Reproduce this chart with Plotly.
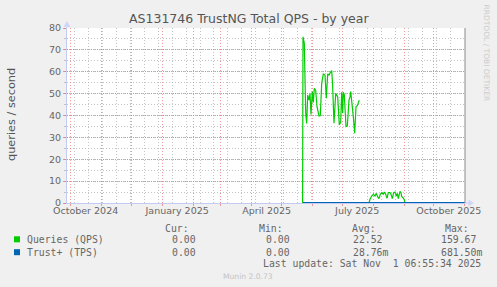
import plotly.graph_objects as go
import pandas as pd

# ---------------- data ----------------
qps_dates_a = [
    "2025-05-22 01:44", "2025-05-22 11:22", "2025-05-23 18:45", "2025-05-25 04:30",
    "2025-05-26 04:38", "2025-05-27 04:45", "2025-05-28 12:06", "2025-05-29 12:13",
    "2025-05-30 12:20", "2025-05-31 19:42", "2025-06-01 19:49", "2025-06-02 19:57",
    "2025-06-04 05:42", "2025-06-05 13:03", "2025-06-07 13:18", "2025-06-08 20:40",
    "2025-06-10 06:26", "2025-06-11 21:01", "2025-06-13 14:01", "2025-06-14 21:23",
    "2025-06-16 07:09", "2025-06-17 14:28", "2025-06-18 21:50", "2025-06-20 07:36",
    "2025-06-21 02:54", "2025-06-22 15:06", "2025-06-24 08:05", "2025-06-25 08:12",
    "2025-06-26 08:20", "2025-06-27 22:55", "2025-06-29 08:41", "2025-06-30 08:48",
    "2025-07-01 08:56", "2025-07-01 23:24", "2025-07-02 23:32", "2025-07-04 16:34",
    "2025-07-05 23:54", "2025-07-07 16:55", "2025-07-08 17:02", "2025-07-09 09:56",
    "2025-07-10 17:17", "2025-07-12 00:39", "2025-07-13 10:25", "2025-07-14 17:46",
    "2025-07-16 01:08", "2025-07-17 10:54", "2025-07-18 01:22",
]
qps_values_a = [
    0, 76, 73, 41,
    36.4, 49.4, 47, 50,
    40.5, 50.9, 46, 52.4,
    51.5, 44, 39.8, 40,
    54.7, 59, 58.5, 47.9,
    59, 58.5, 59.6, 60.5,
    55, 36.5, 50.1, 49.5,
    48.5, 35.7, 37, 50.6,
    41, 50.6, 49.5, 34.9,
    35.2, 47, 48.5, 50.9,
    46, 39.5, 31.9, 44,
    44.5, 46.3, 47,
]
qps_dates_b = [
    "2025-07-27 19:19", "2025-07-28 19:26", "2025-07-30 12:27", "2025-08-01 03:03",
    "2025-08-02 20:02", "2025-08-04 03:24", "2025-08-05 13:11", "2025-08-06 20:31",
    "2025-08-08 03:53", "2025-08-09 13:39", "2025-08-11 04:15", "2025-08-12 04:22",
    "2025-08-13 14:08", "2025-08-14 21:27", "2025-08-16 04:49", "2025-08-17 21:50",
    "2025-08-18 21:58", "2025-08-20 05:18", "2025-08-21 15:04", "2025-08-22 22:26",
    "2025-08-24 05:47", "2025-08-25 05:54", "2025-08-26 06:01", "2025-08-27 23:02",
    "2025-08-28 23:10", "2025-08-29 16:03", "2025-08-30 23:25", "2025-09-01 06:47",
    "2025-09-01 23:40",
]
qps_values_b = [
    0, 1.7, 3.2, 4.0,
    3.2, 4.4, 2.8, 2.0,
    4.0, 4.7, 4.0, 5.0,
    4.0, 2.1, 4.7, 4.7,
    4.0, 2.0, 4.7, 5.0,
    3.2, 4.4, 2.0, 5.3,
    4.7, 3.0, 2.4, 1.5,
    0,
]
tps_dates = ["2025-05-22 11:22", "2025-07-18 01:22", "2025-07-27 19:19",
             "2025-09-01 23:40", "2025-11-01 06:55"]
tps_values = [0, 0, 0, 0, 0]

x_range = ["2024-09-27 06:55", "2025-11-01 06:55"]
y_ticks = [0, 10, 20, 30, 40, 50, 60, 70, 80]
month_label_pos = ["2024-10-16", "2025-01-16", "2025-04-16", "2025-07-16", "2025-10-16"]
month_labels = ["October 2024", "January 2025", "April 2025", "July 2025", "October 2025"]

series_names = ["Queries (QPS)", "Trust+ (TPS)"]
series_colors = ["#00CC00", "#0066B3"]
stat_headers = ["Cur:", "Min:", "Avg:", "Max:"]
qps_stats = ["0.00\u00a0", "0.00\u00a0", "22.52\u00a0", "159.67\u00a0"]
tps_stats = ["0.00\u00a0", "0.00\u00a0", "28.76m", "681.50m"]
title_text = "AS131746 TrustNG Total QPS - by year"
y_title = "queries / second"
last_update = "Last update: Sat Nov \u00a01 06:55:34 2025"
footer = "Munin 2.0.73"
side_text = "RRDTOOL / TOBI OETIKER"

# ---------------- layout helpers ----------------
W, H = 497, 287
PL, PR, PT, PB = 67, 465, 28, 203


def px(x):
    return (x - PL) / (PR - PL)


def py(y):
    return (PB - y) / (PB - PT)


FONT = "DejaVu Sans"
MONO = "DejaVu Sans Mono"
FC = "#666666"
MAJ = "rgba(235,110,110,0.7)"
MIN = "rgba(180,180,180,0.8)"
AXC = "#C3CBF4"

month_starts = pd.date_range("2024-10-01", "2025-11-01", freq="MS")
minor_x = pd.date_range("2024-10-05", "2025-11-01", freq="14D")

fig = go.Figure()
fig.add_trace(go.Scatter(
    x=qps_dates_a + [None] + qps_dates_b,
    y=qps_values_a + [None] + qps_values_b,
    mode="lines", line=dict(color=series_colors[0], width=1.2),
    connectgaps=False, showlegend=False, name=series_names[0]))
fig.add_trace(go.Scatter(
    x=tps_dates, y=tps_values, mode="lines",
    line=dict(color=series_colors[1], width=2), showlegend=False, name=series_names[1]))

fig.update_layout(
    width=W, height=H,
    margin=dict(l=PL, r=W - PR, t=PT, b=H - PB, pad=0),
    paper_bgcolor="#F0F0F0", plot_bgcolor="#FFFFFF",
    font=dict(family=FONT, size=9.5, color=FC),
    showlegend=False,
    xaxis=dict(
        type="date", range=x_range, tickmode="array",
        tickvals=list(month_starts), ticktext=[""] * len(month_starts),
        showgrid=True, gridcolor=MAJ, griddash="1px,2px", gridwidth=1,
        ticks="outside", ticklen=2, tickcolor=MAJ,
        showline=True, linecolor=AXC, linewidth=1, zeroline=False,
        minor=dict(tickmode="array", tickvals=list(minor_x), showgrid=True,
                   gridcolor=MIN, griddash="1px,2px", gridwidth=1),
        automargin=False, fixedrange=True,
    ),
    xaxis2=dict(
        type="date", overlaying="x", matches="x", anchor="y", side="bottom",
        range=x_range, tickmode="array", tickvals=month_label_pos, ticktext=month_labels,
        showgrid=False, ticks="", showline=False, zeroline=False,
        tickfont=dict(family=FONT, size=9.5, color=FC), automargin=False,
    ),
    yaxis=dict(
        range=[0, 80], tickmode="array", tickvals=y_ticks,
        ticktext=[str(v) for v in y_ticks],
        showgrid=True, gridcolor=MAJ, griddash="1px,1px", gridwidth=1,
        ticks="outside", ticklen=3, tickcolor=MAJ,
        showline=True, linecolor=AXC, linewidth=1, zeroline=False,
        minor=dict(dtick=5, showgrid=True, gridcolor=MIN, griddash="1px,2px",
                   ticks="outside", ticklen=2, tickcolor=MIN),
        tickfont=dict(family=FONT, size=9.5, color=FC),
        automargin=False, fixedrange=True,
    ),
)
# invisible trace to activate xaxis2
fig.add_trace(go.Scatter(x=[x_range[0]], y=[None], xaxis="x2", yaxis="y",
                         showlegend=False, hoverinfo="skip"))

shapes = []
# right border
shapes.append(dict(type="line", xref="paper", yref="paper", x0=1, x1=1, y0=0, y1=1,
                   line=dict(color="#8A8A8A", width=1)))
# axis extensions and arrows
shapes.append(dict(type="line", xref="paper", yref="paper", x0=px(465), x1=px(469),
                   y0=0, y1=0, line=dict(color=AXC, width=1)))
shapes.append(dict(type="path", xref="paper", yref="paper",
                   path=f"M {px(468.5)},{py(199.5)} L {px(474)},{py(203)} L {px(468.5)},{py(206.5)} Z",
                   fillcolor="#CFD6F8", line=dict(width=0)))
shapes.append(dict(type="line", xref="paper", yref="paper", x0=px(67), x1=px(67),
                   y0=1, y1=py(25), line=dict(color=AXC, width=1)))
shapes.append(dict(type="path", xref="paper", yref="paper",
                   path=f"M {px(63.5)},{py(27)} L {px(67)},{py(21)} L {px(70.5)},{py(27)} Z",
                   fillcolor="#CFD6F8", line=dict(width=0)))
# legend squares
for yc, col in zip([239.3, 252.2], series_colors):
    shapes.append(dict(type="rect", xref="paper", yref="paper",
                       x0=px(14), x1=px(20), y0=py(yc - 3), y1=py(yc + 3),
                       fillcolor=col, line=dict(width=0)))
fig.update_layout(shapes=shapes)

ann = []


def text(x, y, s, anchor="left", size=9.8, family=MONO, color=FC, angle=0):
    ann.append(dict(xref="paper", yref="paper", x=px(x), y=py(y), text=s,
                    showarrow=False, xanchor=anchor, yanchor="middle",
                    borderpad=0, textangle=angle,
                    font=dict(family=family, size=size, color=color)))


text(248.5, 18.5, title_text, anchor="center", size=12.5, family=FONT, color="#555555")
text(11, 115, y_title, anchor="center", size=11.3, family=FONT, color="#555555", angle=-90)
text(486.5, 53, side_text, anchor="center", size=7.5, family=FONT, color="#CCCCCC", angle=90)

hdr_right = [190, 284, 377, 470]
val_right = [203, 297, 389, 483]
for h, xr in zip(stat_headers, hdr_right):
    text(xr, 228.5, h, anchor="right")
for row_y, name, stats in zip([239.3, 252.2], series_names, [qps_stats, tps_stats]):
    text(26, row_y, name, anchor="left")
    for s, xr in zip(stats, val_right):
        text(xr, row_y, s, anchor="right")
text(482, 263.8, last_update, anchor="right")
text(248, 276, footer, anchor="center", size=7.6, family=FONT, color="#C4C4C4")
fig.update_layout(annotations=ann)

fig.write_html("out.html")
